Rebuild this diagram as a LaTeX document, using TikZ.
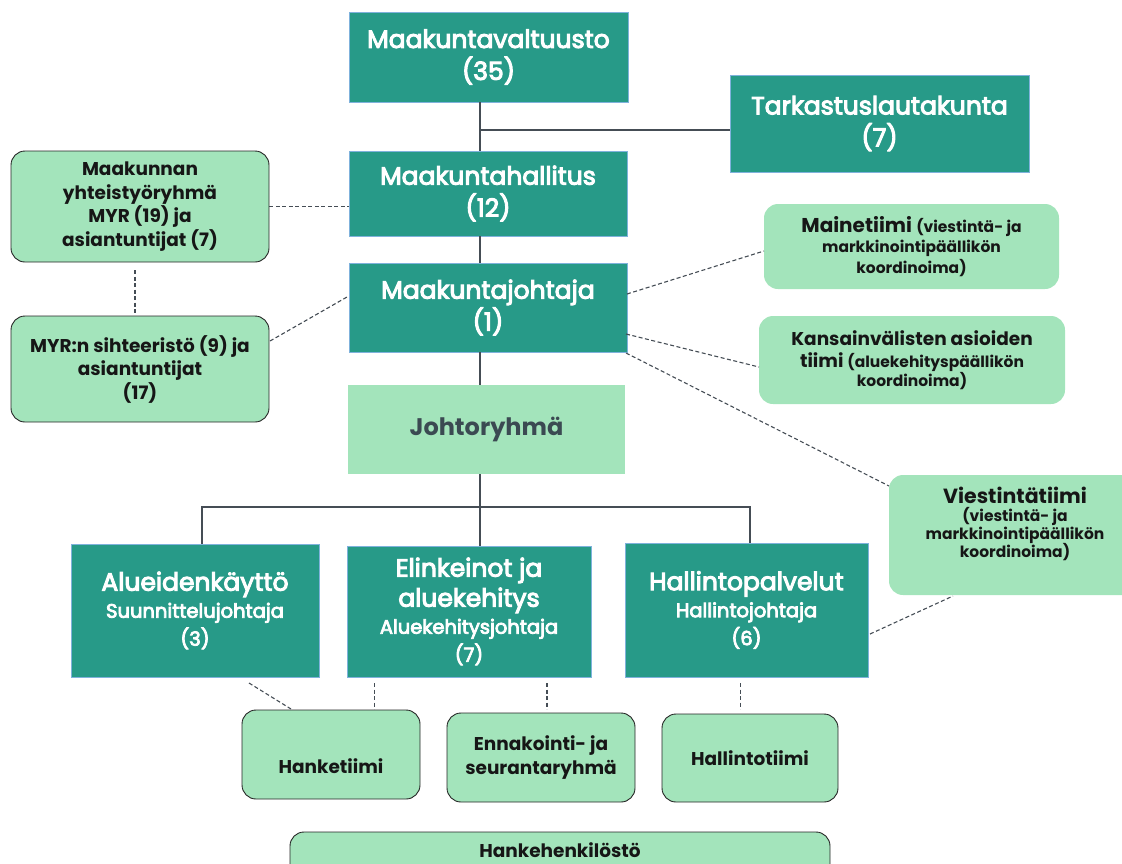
\documentclass[tikz,border=0pt]{standalone}
\usepackage{fontspec}
\setmainfont{Poppins}
\newfontfamily\medfont{Poppins}[FakeBold=4]
\definecolor{tealc}{HTML}{279A88}
\definecolor{lgreen}{HTML}{A3E4BB}
\definecolor{bblue}{HTML}{7FB2DC}
\definecolor{lineg}{HTML}{454D55}
\definecolor{slate}{HTML}{3B4A52}
\definecolor{ink}{HTML}{161616}
\tikzset{
  dark/.style={draw=bblue, line width=0.8pt, fill=tealc, text=white, align=center, inner sep=2pt, font=\medfont\fontsize{25}{32}\selectfont},
  light/.style={draw=black!85, line width=0.9pt, fill=lgreen, text=ink, rounded corners=14pt, align=center, inner sep=2pt, font=\bfseries\fontsize{18.5}{23.5}\selectfont},
  lightnb/.style={fill=lgreen, text=ink, rounded corners=14pt, align=center, inner sep=2pt, font=\bfseries\fontsize{18.5}{23.5}\selectfont},
  conn/.style={draw=lineg, line width=1.4pt},
  dconn/.style={draw=lineg, line width=1.1pt, dash pattern=on 4pt off 2.5pt},
}
\newcommand{\subt}[1]{{\fontsize{19.5}{23}\selectfont #1}}
\newcommand{\parn}[1]{{\fontsize{15.5}{20}\selectfont #1}}
\begin{document}
\begin{tikzpicture}[x=1pt,y=-1pt]
\useasboundingbox (0,0) rectangle (1122,863);
\clip (0,0) rectangle (1122,863);
% teal boxes
\node[dark, minimum width=279, minimum height=90] (mv) at (488.5,57) {Maakuntavaltuusto\\(35)};
\node[dark, minimum width=299, minimum height=97] (tl) at (879.5,123.5) {Tarkastuslautakunta\\(7)};
\node[dark, minimum width=278, minimum height=85] (mh) at (488,193.5) {Maakuntahallitus\\(12)};
\node[dark, minimum width=278, minimum height=89] (mj) at (488,307.5) {Maakuntajohtaja\\(1)};
\node[fill=lgreen, text=slate, minimum width=277, minimum height=89, font=\bfseries\fontsize{24}{28}\selectfont] (jr) at (486.5,429.5) {Johtoryhmä};
\node[dark, minimum width=248, minimum height=133] (ak) at (195,610.5) {Alueidenkäyttö\\[-5pt]\subt{Suunnittelujohtaja}\\[-4pt]\subt{(3)}};
\node[dark, minimum width=244, minimum height=131] (el) at (469,611.5) {Elinkeinot ja\\[-2pt]aluekehitys\\[-5pt]\subt{Aluekehitysjohtaja}\\[-4pt]\subt{(7)}};
\node[dark, minimum width=243, minimum height=134] (hp) at (746.5,610) {Hallintopalvelut\\[-5pt]\subt{Hallintojohtaja}\\[-4pt]\subt{(6)}};
% light boxes
\node[light, minimum width=258, minimum height=111] (myr) at (140,206.5) {Maakunnan\\yhteistyöryhmä\\MYR (19) ja\\asiantuntijat (7)};
\node[light, minimum width=258, minimum height=106] (sih) at (140,369) {MYR:n sihteeristö (9) ja\\asiantuntijat\\(17)};
\node[lightnb, minimum width=295, minimum height=85, font=\bfseries\fontsize{20}{20.5}\selectfont] (mt) at (911.5,246.5) {Mainetiimi \parn{(viestintä- ja}\\\parn{markkinointipäällikön}\\\parn{koordinoima)}};
\node[lightnb, minimum width=306, minimum height=88, font=\bfseries\fontsize{18.5}{22}\selectfont] (ki) at (912,360) {Kansainvälisten asioiden\\tiimi \parn{(aluekehityspäällikön}\\[-3pt]\parn{koordinoima)}};
\node[lightnb, minimum width=252, minimum height=120, font=\bfseries\fontsize{20.5}{20}\selectfont] (vt) at (1015,535) {Viestintätiimi\\[-2pt]\parn{(viestintä- ja}\\[-2pt]\parn{markkinointipäällikön}\\[-2pt]\parn{koordinoima)}\\[6pt]};
\node[light, minimum width=178, minimum height=89] (ht) at (331,754.5) {\smash{\raisebox{-19pt}{Hanketiimi}}};
\node[light, minimum width=188, minimum height=89] (en) at (541,757.5) {Ennakointi- ja\\seurantaryhmä};
\node[light, minimum width=176, minimum height=88] (hl) at (750,758) {Hallintotiimi};
\draw[draw=black!85, line width=0.9pt, fill=lgreen, rounded corners=14pt] (290,832) rectangle (830,900);
\node[text=ink, font=\bfseries\fontsize{18.5}{23.5}\selectfont, inner sep=1pt] (hh) at (560,850) {Hankehenkilöstö};
% solid connectors
\coordinate (c1) at (480,130);
\coordinate (bl) at (202,507);
\coordinate (brr) at (750,507);
\draw[conn] (c1 |- mv.south) -- (c1 |- mh.north);
\draw[conn] (c1) -- (c1 -| tl.west);
\draw[conn] (c1 |- mh.south) -- (c1 |- mj.north);
\draw[conn] (c1 |- mj.south) -- (c1 |- jr.north);
\draw[conn] (c1 |- jr.south) -- (c1 |- el.north);
\draw[conn] (bl |- ak.north) -- (bl) -- (brr) -- (brr |- hp.north);
% dashed connectors
\draw[dconn] (myr.east) -- (mh.west |- myr.east);
\coordinate (d1) at (135,270);
\coordinate (d2) at (135,313);
\draw[dconn] (d1) -- (d2);
\coordinate (sa) at (270,341);
\coordinate (ma) at (347,297);
\draw[dconn] (sa) -- (ma);
\coordinate (m1) at (627,294);
\coordinate (t1) at (764,251);
\draw[dconn] (m1) -- (t1);
\coordinate (m2) at (626,334);
\coordinate (t2) at (759,367);
\draw[dconn] (m2) -- (t2);
\coordinate (m3) at (626,353);
\coordinate (t3) at (889,486);
\draw[dconn] (m3) -- (t3);
\coordinate (h1) at (870,634);
\coordinate (v1) at (953,596);
\draw[dconn] (h1) -- (v1);
\coordinate (a1) at (249,683);
\coordinate (a2) at (291,709);
\draw[dconn] (a1) -- (a2);
\coordinate (e1) at (374.5,683);
\coordinate (e2) at (374.5,709);
\draw[dconn] (e1) -- (e2);
\coordinate (e3) at (547,683);
\coordinate (e4) at (547,709);
\draw[dconn] (e3) -- (e4);
\coordinate (p1) at (740.5,683);
\coordinate (p2) at (740.5,709);
\draw[dconn] (p1) -- (p2);
\end{tikzpicture}
\end{document}
